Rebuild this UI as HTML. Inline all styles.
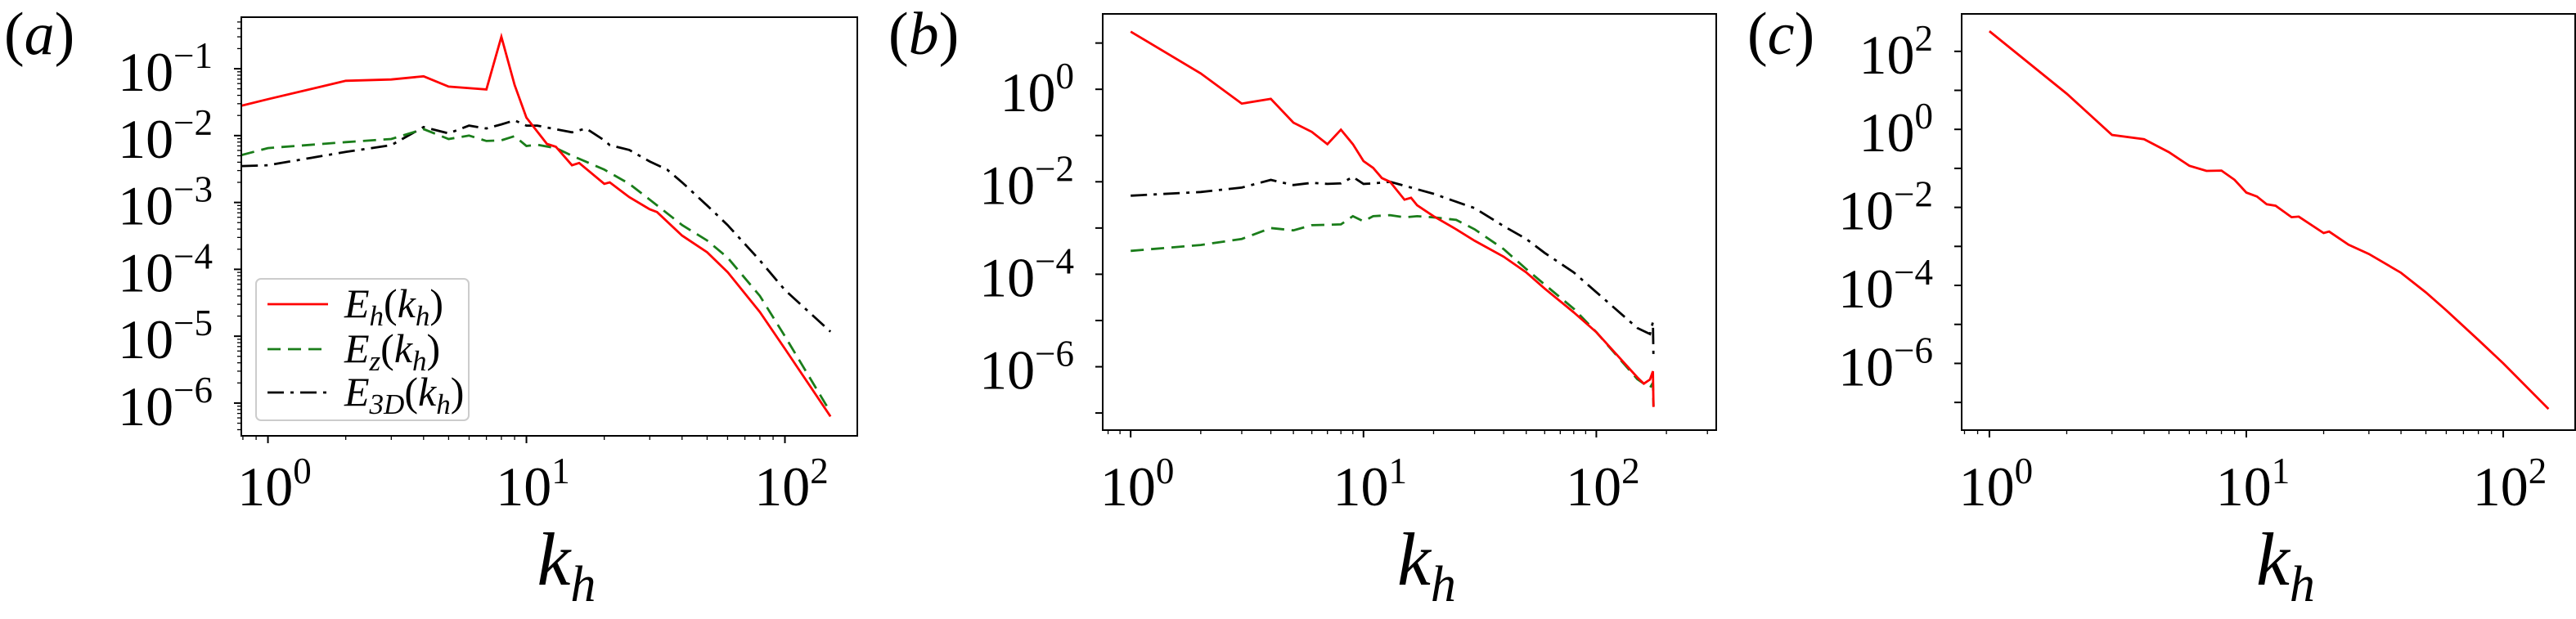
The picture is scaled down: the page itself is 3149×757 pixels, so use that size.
<!DOCTYPE html>
<html><head><meta charset="utf-8"><style>
html,body{margin:0;padding:0;background:#fff;}
svg{display:block;}
svg text{font-family:"Liberation Serif","Times New Roman",serif;}
</style></head><body>
<svg id="fig" width="3149" height="757" viewBox="0 0 3149 757" xmlns="http://www.w3.org/2000/svg"></svg>
<script>
// ---- Panel (a) data ----
const kA_h = [0.79,1,2,3,4,5,7,8,9,10,12,13,15,16,20,21,25,30,32,40,50,60,80,100,150];
const EA_h = [0.028,0.035,0.066,0.069,0.077,0.054,0.049,0.30,0.057,0.0186,0.0075,0.0068,0.0036,0.0039,0.0019,0.002,0.0012,0.00079,0.00072,3.2e-4,1.8e-4,9.1e-5,2.3e-5,6.5e-6,6.3e-7];
const kA_z = [0.79,1,2,3,4,5,6,7,8,9,10,11,13,15,20,25,30,40,50,60,80,100,150];
const EA_z = [0.0051,0.0065,0.0080,0.0089,0.0125,0.0089,0.0100,0.0083,0.0085,0.0098,0.0070,0.0073,0.0065,0.0050,0.0031,0.0019,0.0011,4.6e-4,2.7e-4,1.5e-4,4e-5,1.0e-5,7.3e-7];
const kA_3 = [0.79,1,2,3,4,5,6,7,8,9,10,11,15,17,20,21,25,30,35,40,50,60,80,100,150];
const EA_3 = [0.0035,0.0036,0.0057,0.0072,0.0134,0.0108,0.0141,0.0128,0.0147,0.0169,0.0141,0.0141,0.0112,0.0128,0.0085,0.0072,0.0061,0.0041,0.0031,0.0020,9e-4,4.6e-4,1.36e-4,4.9e-5,1.17e-5];
// ---- Panel (b) data ----
const kB_h = [1,2,3,4,5,6,7,8,9,10,11,12,13,15,16,17,20,25,30,40,50,60,80,100,150,160,170,175,176];
const EB_h = [17.6,2.2,0.49,0.62,0.19,0.12,0.065,0.134,0.065,0.028,0.020,0.012,0.0100,0.0041,0.0045,0.0031,0.0018,0.00094,5.3e-4,2.4e-4,1.1e-4,4.9e-5,1.5e-5,5.6e-6,5.9e-7,4.3e-7,5.3e-7,8e-7,1.35e-7];
const kB_z = [1,2,3,4,5,6,8,9,10,11,13,15,17,20,25,30,40,50,60,80,100,150,170,175,176];
const EB_z = [3.2e-4,4.3e-4,5.8e-4,1.0e-3,8.9e-4,1.15e-3,1.2e-3,1.8e-3,1.4e-3,1.8e-3,1.9e-3,1.7e-3,1.8e-3,1.7e-3,1.5e-3,9.4e-4,3.5e-4,1.3e-4,6e-5,1.8e-5,5.6e-6,5.4e-7,3.5e-7,4.5e-7,1.4e-7];
const kB_3 = [1,2,3,4,5,6,7,8,9,10,11,13,15,20,25,30,40,50,60,80,100,150,170,175,176];
const EB_3 = [0.005,0.006,0.0075,0.011,0.0085,0.0095,0.009,0.0092,0.0127,0.009,0.0092,0.01,0.0082,0.0055,0.0037,0.0027,0.0011,5.8e-4,2.9e-4,1.1e-4,4.1e-5,6.9e-6,5.1e-6,9.3e-6,1.4e-6];
// ---- Panel (c) data ----
const kC_h = [1,2,3,4,5,6,7,8,9,10,11,12,13,15,16,20,21,25,30,40,50,60,80,100,150];
const EC_h = [330,8.2,0.72,0.56,0.26,0.117,0.086,0.088,0.051,0.024,0.019,0.012,0.011,0.0056,0.0058,0.0022,0.0024,0.0011,6.4e-4,2.1e-4,6.6e-5,2.3e-5,4e-6,1e-6,6.8e-8];
// tick labels
const xTickExp = [0,1,2];
const yTickExpA = [-1,-2,-3,-4,-5,-6];
const yTickExpB = [0,-2,-4,-6];
const yTickExpC = [2,0,-2,-4,-6];
const legendLabels = [["E","h"],["E","z"],["E","3D"]];

const NS="http://www.w3.org/2000/svg";
const svg=document.getElementById('fig');
function el(tag,attrs,parent){const e=document.createElementNS(NS,tag);for(const k in attrs)e.setAttribute(k,attrs[k]);(parent||svg).appendChild(e);return e;}

const panels=[
 {id:'a',L:295,R:1048,T:21,B:533,x0:-0.103,x1:2.28,y0:-6.49,y1:-0.229,yt:yTickExpA,yMinor:true,lab:'a'},
 {id:'b',L:1348,R:2098,T:17,B:526,x0:-0.12,x1:2.515,y0:-7.37,y1:1.63,yt:yTickExpB,yMinor:false,lab:'b'},
 {id:'c',L:2398,R:3148,T:17,B:526,x0:-0.108,x1:2.28,y0:-7.71,y1:2.96,yt:yTickExpC,yMinor:false,lab:'c'}
];
function mk(p){
 p.sx=k=>p.L+(Math.log10(k)-p.x0)/(p.x1-p.x0)*(p.R-p.L);
 p.sy=v=>p.B-(Math.log10(v)-p.y0)/(p.y1-p.y0)*(p.B-p.T);
 p.sxe=e=>p.L+(e-p.x0)/(p.x1-p.x0)*(p.R-p.L);
 p.sye=e=>p.B-(e-p.y0)/(p.y1-p.y0)*(p.B-p.T);
}
panels.forEach(mk);

function drawAxes(p){
 const g=el('g',{});
 
 
 for(let d=-1;d<=3;d++){for(let m=1;m<10;m++){const e=d+Math.log10(m);if(e<p.x0||e>p.x1)continue;const x=p.sxe(e);
  el('line',{x1:x,x2:x,y1:p.B,y2:p.B+(m==1?9:5),stroke:'#000','stroke-width':m==1?2:1.3},g);}}
 xTickExp.forEach(e=>{const x=p.sxe(e);const t=el('text',{x:x+8,y:618,'font-size':68,'text-anchor':'middle'},g);
  
  const a=el('tspan',{},t);a.textContent='10';const b=el('tspan',{dy:-27,'font-size':45},t);b.textContent=String(e);});
 for(let d=-9;d<=3;d++){for(let m=1;m<10;m++){if(m>1&&!p.yMinor)continue;const e=d+Math.log10(m);if(e<p.y0||e>p.y1)continue;const y=p.sye(e);
  el('line',{x1:p.L,x2:p.L-(m==1?9:5),y1:y,y2:y,stroke:'#000','stroke-width':m==1?2:1.3},g);}}
 p.yt.forEach(e=>{const y=p.sye(e);const t=el('text',{x:p.L-35,y:y+27,'font-size':68,'text-anchor':'end'},g);
  
  const a=el('tspan',{},t);a.textContent='10';const b=el('tspan',{dy:-28,'font-size':45},t);b.textContent=(e<0?'\u2212':'')+Math.abs(e);});
 const pl=el('text',{x:p.L-(p.id=='a'?290:262),y:66,'font-size':74},g);
 
 el('tspan',{},pl).textContent='(';const it=el('tspan',{'font-style':'italic'},pl);it.textContent=p.lab;el('tspan',{},pl).textContent=')';
 const xt=el('text',{x:(p.L+p.R)/2-15,y:715,'font-size':92,'font-style':'italic'},g);
 
 el('tspan',{},xt).textContent='k';const s=el('tspan',{dy:20,'font-size':62},xt);s.textContent='h';
}
function clipFor(p){const c=el('clipPath',{id:'clip'+p.id});el('rect',{x:p.L,y:p.T,width:p.R-p.L,height:p.B-p.T},c);}
function line(p,ks,vs,color,dash,name){
 const d=ks.map((k,i)=>(i?'L':'M')+p.sx(k).toFixed(1)+','+p.sy(vs[i]).toFixed(1)).join('');
 const a={d:d,fill:'none',stroke:color,'stroke-width':2.8,'clip-path':'url(#clip'+p.id+')'};
 if(dash)a['stroke-dasharray']=dash;
 const e=el('path',a);
 
 
}
function frame(p){const r=el('rect',{x:p.L,y:p.T,width:p.R-p.L,height:p.B-p.T,fill:'none',stroke:'#000','stroke-width':2});
 }

panels.forEach(p=>{clipFor(p);drawAxes(p);});
const [A,B,C]=panels;
line(A,kA_3,EA_3,'#000','20,8,4,8','panel-a-e3d-line');
line(A,kA_z,EA_z,'#1a7d1a','16,9','panel-a-ez-line');
line(A,kA_h,EA_h,'#ff0000',null,'panel-a-eh-line');
line(B,kB_3,EB_3,'#000','20,8,4,8','panel-b-e3d-line');
line(B,kB_z,EB_z,'#1a7d1a','16,9','panel-b-ez-line');
line(B,kB_h,EB_h,'#ff0000',null,'panel-b-eh-line');
line(C,kC_h,EC_h,'#ff0000',null,'panel-c-eh-line');
panels.forEach(frame);

const lg=el('g',{});


el('rect',{x:313,y:341,width:260,height:173,rx:6,fill:'#fff','fill-opacity':0.85,stroke:'#ccc','stroke-width':2},lg);
const lstyles=[['#ff0000',null],['#1a7d1a','16,9'],['#000','20,8,4,8']];
const ly=[372,427,480];
legendLabels.forEach((lb,i)=>{
 const ent=el('g',{},lg);
 
 
 const a={x1:327,x2:401,y1:ly[i],y2:ly[i],stroke:lstyles[i][0],'stroke-width':2.8};
 if(lstyles[i][1])a['stroke-dasharray']=lstyles[i][1];
 el('line',a,ent);
 const t=el('text',{x:421,y:ly[i]+16,'font-size':50},ent);
 const e1=el('tspan',{'font-style':'italic'},t);e1.textContent=lb[0];
 const e2=el('tspan',{'font-style':'italic','font-size':35,dy:10},t);e2.textContent=lb[1];
 const e3=el('tspan',{dy:-10},t);e3.textContent='(';
 const e4=el('tspan',{'font-style':'italic'},t);e4.textContent='k';
 const e5=el('tspan',{'font-style':'italic','font-size':35,dy:10},t);e5.textContent='h';
 const e6=el('tspan',{dy:-10},t);e6.textContent=')';
});
</script>
</body></html>
